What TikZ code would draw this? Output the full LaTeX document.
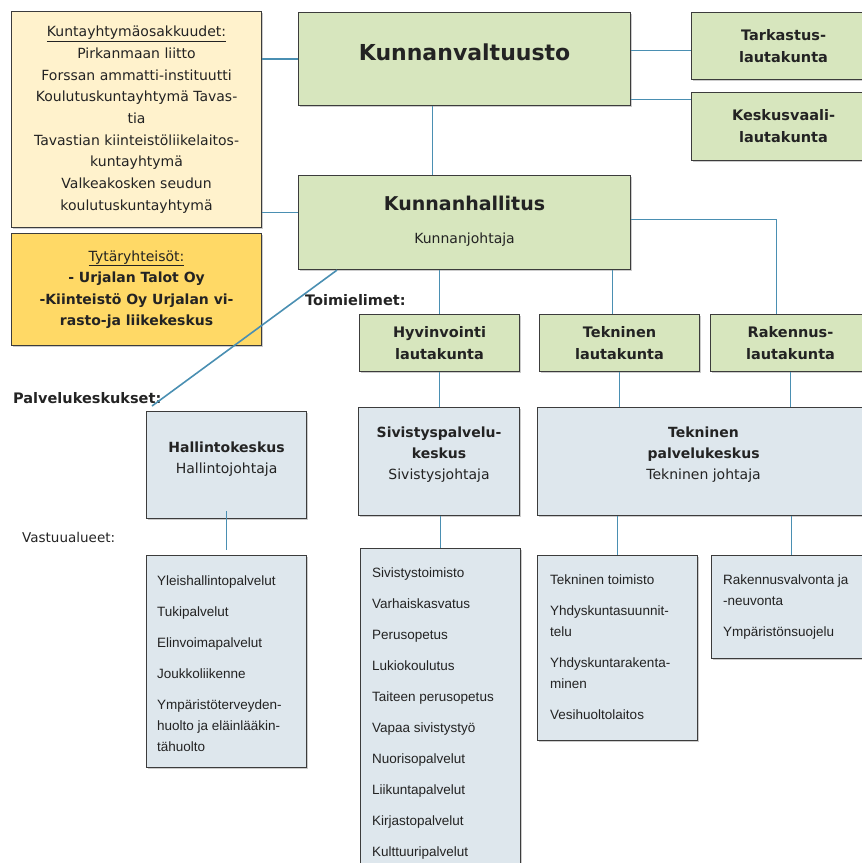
\documentclass[tikz,border=0pt]{standalone}
\usepackage{fontspec}
\setmainfont{DejaVu Sans}
\newfontfamily\listfont{Liberation Sans}
\usetikzlibrary{positioning, shadows}
\definecolor{creamfill}{RGB}{255,242,204}
\definecolor{goldfill}{RGB}{255,217,102}
\definecolor{greenfill}{RGB}{215,230,190}
\definecolor{bluefill}{RGB}{222,231,237}
\definecolor{linkblue}{RGB}{74,143,178}
\definecolor{boxline}{RGB}{60,60,60}
\definecolor{inkgray}{RGB}{35,35,35}
\tikzset{
box/.style={draw=boxline, line width=1.1pt, anchor=north west, inner sep=0pt, align=center, text=inkgray,
  drop shadow={shadow xshift=1.5pt, shadow yshift=-1.5pt, fill=black!50, opacity=.4}}, % all frames
owner/.style={box, fill=creamfill, font=\fontsize{14}{21.7}\selectfont},
subsid/.style={box, fill=goldfill, font=\fontsize{14}{21.5}\selectfont},
organ/.style={box, fill=greenfill, font=\bfseries\fontsize{14.5}{22}\selectfont},
office/.style={box, fill=bluefill},
caption/.style={inner sep=0pt, align=center, text=inkgray, font=\fontsize{14}{21}\selectfont},
tasks/.style={inner sep=0pt, align=left, text=inkgray, font=\listfont\fontsize{13.5}{21}\selectfont},
heading/.style={anchor=west, inner sep=0pt, text=inkgray, font=\bfseries\fontsize{14.5}{17}\selectfont},
link/.style={draw=linkblue, line width=1.6pt},
}

\begin{document}
\begin{tikzpicture}[x=1pt, y=-1pt]
    \useasboundingbox (0,0) rectangle (862,863);
    \clip (0,0) rectangle (862,863);

    % council and owners
    \node[owner, minimum width=250pt, minimum height=216pt] (ky) at (11,11) {\underline{Kuntayhtymäosakkuudet:}\\Pirkanmaan liitto\\Forssan ammatti-instituutti\\Koulutuskuntayhtymä Tavas-\\tia\\Tavastian kiinteistöliikelaitos-\\kuntayhtymä\\Valkeakosken seudun\\koulutuskuntayhtymä};
    \node[subsid, minimum width=250pt, minimum height=112pt] (ty) at (11,233) {\underline{Tytäryhteisöt:}\\\textbf{- Urjalan Talot Oy}\\\textbf{-Kiinteistö Oy Urjalan vi-}\\\textbf{rasto-ja liikekeskus}};
    \node[organ, minimum width=332pt, minimum height=93pt] (kv) at (298,12) {};
    \node[caption, font=\bfseries\fontsize{22}{26}\selectfont, below=32pt of kv.north] (kvt) {Kunnanvaltuusto};
    \node[organ, minimum width=184pt, minimum height=67pt] (tk) at (691,12) {Tarkastus-\\lautakunta};
    \node[organ, minimum width=184pt, minimum height=68pt] (kvl) at (691,92) {Keskusvaali-\\lautakunta};
    \node[organ, minimum width=332pt, minimum height=94pt] (kh) at (298,175) {};
    \node[caption, font=\bfseries\fontsize{19}{23}\selectfont, below=20.5pt of kh.north] (kht) {Kunnanhallitus};
    \node[caption, below=22.5pt of kht] (khj) {Kunnanjohtaja};

    % boards
    \node[heading] (toim) at (305,300) {Toimielimet:};
    \node[organ, minimum width=160pt, minimum height=57pt] (hy) at (359,314) {Hyvinvointi\\lautakunta};
    \node[organ, minimum width=160pt, minimum height=57pt] (tl) at (539,314) {Tekninen\\lautakunta};
    \node[organ, minimum width=160pt, minimum height=57pt] (rl) at (710,314) {Rakennus-\\lautakunta};

    % service centres
    \node[heading] (palv) at (13,398) {Palvelukeskukset:};
    \coordinate (pk) at (152,406);
    \node[office, minimum width=160pt, minimum height=107pt] (hk) at (146,411) {};
    \node[caption, below=30.5pt of hk.north] (hkt) {\textbf{Hallintokeskus}\\Hallintojohtaja};
    \node[office, minimum width=161pt, minimum height=108pt] (sk) at (358,407) {};
    \node[caption, below=19.5pt of sk.north] (skt) {\textbf{Sivistyspalvelu-}\\\textbf{keskus}\\Sivistysjohtaja};
    \node[office, minimum width=332pt, minimum height=108pt] (tpk) at (537,407) {};
    \node[caption, below=19.5pt of tpk.north] (tpkt) {\textbf{Tekninen}\\\textbf{palvelukeskus}\\Tekninen johtaja};

    % areas of responsibility
    \node[heading, font=\fontsize{13.5}{17}\selectfont] (vast) at (22,537) {Vastuualueet:};
    \node[office, minimum width=160pt, minimum height=212pt] (hl) at (146,555) {};
    \node[tasks, below right=21pt and 11pt of hl.north west] (hlt) {Yleishallintopalvelut\\[10pt]Tukipalvelut\\[10pt]Elinvoimapalvelut\\[10pt]Joukkoliikenne\\[10pt]Ympäristöterveyden-\\huolto ja eläinlääkin-\\tähuolto};
    \node[office, minimum width=160pt, minimum height=330pt] (sl) at (360,548) {};
    \node[tasks, below right=20pt and 12pt of sl.north west] (slt) {Sivistystoimisto\\[10pt]Varhaiskasvatus\\[10pt]Perusopetus\\[10pt]Lukiokoulutus\\[10pt]Taiteen perusopetus\\[10pt]Vapaa sivistystyö\\[10pt]Nuorisopalvelut\\[10pt]Liikuntapalvelut\\[10pt]Kirjastopalvelut\\[10pt]Kulttuuripalvelut};
    \node[office, minimum width=160pt, minimum height=185pt] (tll) at (537,555) {};
    \node[tasks, below right=20pt and 13pt of tll.north west] (tllt) {Tekninen toimisto\\[10pt]Yhdyskuntasuunnit-\\telu\\[10pt]Yhdyskuntarakenta-\\minen\\[10pt]Vesihuoltolaitos};
    \node[office, minimum width=160pt, minimum height=103pt] (rll) at (711,555) {};
    \node[tasks, below right=19.5pt and 12pt of rll.north west] (rllt) {Rakennusvalvonta ja\\-neuvonta\\[10pt]Ympäristönsuojelu};

    % connectors
    \draw[link] (kv.west) -- (kv.west -| ky.east);
    \draw[link] ([yshift=10pt]kh.west) -- ([yshift=10pt]kh.west -| ky.east);
    \draw[link] ([yshift=8.5pt]kv.east) -- ([yshift=8.5pt]kv.east -| tk.west);
    \draw[link] ([yshift=-40.5pt]kv.east) -- ([yshift=-40.5pt]kv.east -| kvl.west);
    \draw[link] ([xshift=-32pt]kv.south) -- ([xshift=-32pt]kv.south |- kh.north);
    \draw[link] ([yshift=3pt]kh.east) -| ([xshift=-14pt]rl.north);
    \draw[link] (hy.north |- kh.south) -- (hy.north);
    \draw[link] ([xshift=-7pt]tl.north |- kh.south) -- ([xshift=-7pt]tl.north);
    \draw[link] ([xshift=39pt]kh.south west) -- (pk);
    \draw[link] (hy.south) -- (hy.south |- sk.north);
    \draw[link] (tl.south) -- (tl.south |- tpk.north);
    \draw[link] (rl.south) -- (rl.south |- tpk.north);
    \draw[link] ([yshift=8pt]hk.south) -- ([yshift=5pt]hl.north);
    \draw[link] (sl.north |- sk.south) -- (sl.north);
    \draw[link] (tll.north |- tpk.south) -- (tll.north);
    \draw[link] (rll.north |- tpk.south) -- (rll.north);
\end{tikzpicture}
\end{document}
